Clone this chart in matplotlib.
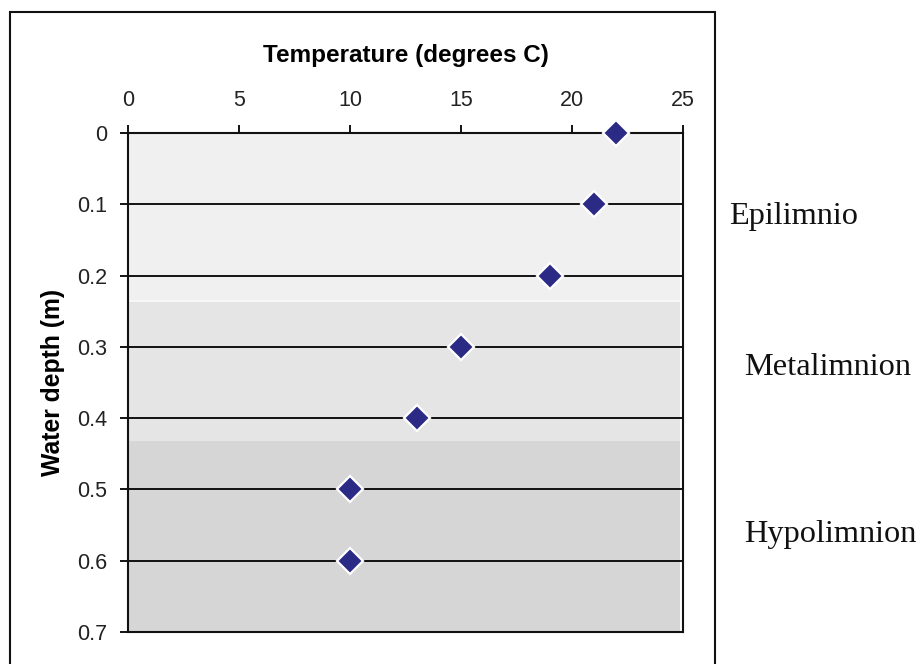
import matplotlib
matplotlib.use("Agg")
import matplotlib.pyplot as plt
from matplotlib.patches import Rectangle

# Temperature profile of a lake
depth_m = [0.0, 0.1, 0.2, 0.3, 0.4, 0.5, 0.6]
temperature_c = [22, 21, 19, 15, 13, 10, 10]

# Thermal layers: (name, top depth, bottom depth, shade)
layer_names = ["Epilimnio", "Metalimnion", "Hypolimnion"]
layer_tops = [0.0, 0.236, 0.432]
layer_bottoms = [0.236, 0.432, 0.7]
layer_colors = ["#f0f0f0", "#e5e5e5", "#d6d6d6"]

x_ticks = [0, 5, 10, 15, 20, 25]
y_ticks = [0, 0.1, 0.2, 0.3, 0.4, 0.5, 0.6, 0.7]

W, H = 919, 664
fig = plt.figure(figsize=(W / 100, H / 100), dpi=100)
fig.patch.set_facecolor("white")

ax = fig.add_axes([128 / W, 1 - 632 / H, (683 - 128) / W, (632 - 133) / H])
ax.set_facecolor("white")

for top, bot, col in zip(layer_tops, layer_bottoms, layer_colors):
    ax.axhspan(top, bot, xmin=0, xmax=0.995, facecolor=col, edgecolor="none", zorder=0)
# faint light seam between upper layers
ax.axhline(layer_tops[1], xmin=0, xmax=0.995, color="#fafafa", lw=1.2, zorder=0.5)

ax.set_xlim(0, 25)
ax.set_ylim(0.7, 0)
ax.set_xticks(x_ticks)
ax.set_yticks(y_ticks)
ax.set_xticklabels([str(t) for t in x_ticks])
ax.set_yticklabels(["0"] + [f"{t:.1f}" for t in y_ticks[1:]])

ax.xaxis.tick_top()
ax.xaxis.set_label_position("top")
ax.tick_params(axis="x", which="both", direction="out", length=6, width=1.3,
               pad=10, labelsize=15.5, colors="black")
ax.tick_params(axis="y", which="both", direction="out", length=6, width=1.3,
               pad=9, labelsize=15.5, colors="black")
for lab in ax.get_xticklabels() + ax.get_yticklabels():
    lab.set_fontfamily("Liberation Sans")
    lab.set_color("#222222")

ax.yaxis.grid(True, color="#111111", lw=1.4)
ax.set_axisbelow(True)
for s in ax.spines.values():
    s.set_color("#111111")
    s.set_linewidth(1.5)

ax.plot(temperature_c, depth_m, linestyle="none", marker="D", ms=13.5,
        mfc="#2b2b85", mec="white", mew=1.6, zorder=3, clip_on=False)

ax.set_xlabel("Temperature (degrees C)", fontsize=17.5, fontweight="bold",
              family="Liberation Sans", labelpad=20)
ax.set_ylabel("Water depth (m)", fontsize=17.8, fontweight="bold",
              family="Liberation Sans", labelpad=9)

# frame around the chart
fig.patches.append(Rectangle((10 / W, -0.05), (715 - 10) / W, 0.05 + 1 - 12 / H,
                             transform=fig.transFigure, fill=False,
                             edgecolor="#111111", lw=1.5))

# layer labels
label_x = [729, 744, 744]
label_base = [224, 375, 542]
for name, lx, ly in zip(layer_names, label_x, label_base):
    fig.text(lx / W, 1 - ly / H, name, fontsize=23.3, family="Liberation Serif",
             ha="left", va="baseline", color="#111111")

fig.savefig("out.png", dpi=100)
